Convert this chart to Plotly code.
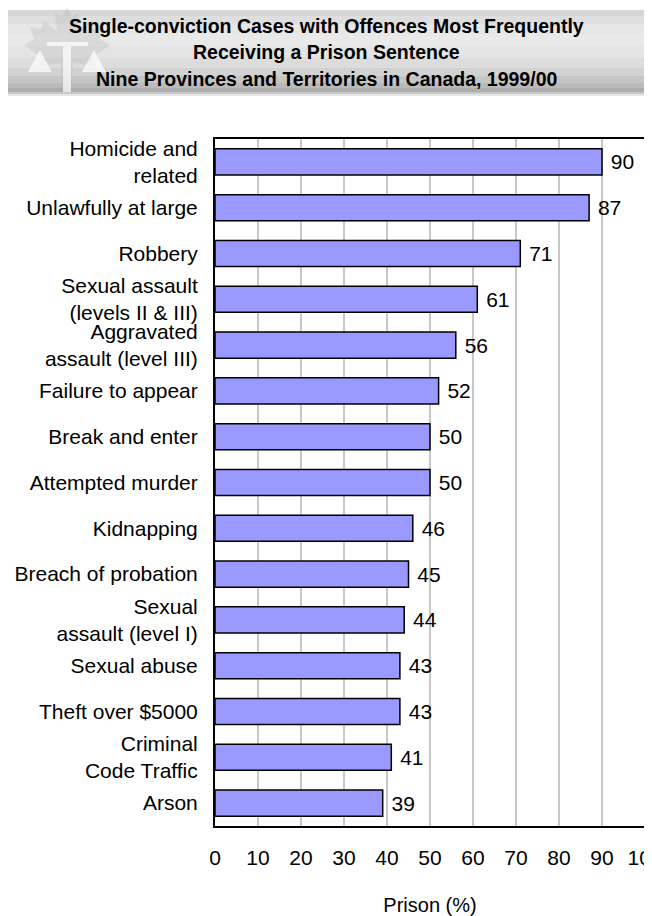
import plotly.graph_objects as go

categories = [
    "Homicide and<br>related",
    "Unlawfully at large",
    "Robbery",
    "Sexual assault<br>(levels II & III)",
    "Aggravated<br>assault (level III)",
    "Failure to appear",
    "Break and enter",
    "Attempted murder",
    "Kidnapping",
    "Breach of probation",
    "Sexual<br>assault (level I)",
    "Sexual abuse",
    "Theft over $5000",
    "Criminal<br>Code Traffic",
    "Arson",
]
prison_pct = [90, 87, 71, 61, 56, 52, 50, 50, 46, 45, 44, 43, 43, 41, 39]
x_ticks = [0, 10, 20, 30, 40, 50, 60, 70, 80, 90, 100]

title_lines = [
    "Single-conviction Cases with Offences Most Frequently",
    "Receiving a Prison Sentence",
    "Nine Provinces and Territories in Canada, 1999/00",
]

FONT = "Liberation Sans, Arial, sans-serif"
# page body has an 8px margin, so the figure starts at (8, 8) in the window
OFF = 8
W, H = 652 - OFF, 916 - OFF
PLOT_LEFT, PLOT_RIGHT, PLOT_TOP, PLOT_BOTTOM = 215, 645, 139, 826
L = PLOT_LEFT - OFF
R = (OFF + W) - PLOT_RIGHT
T = PLOT_TOP - OFF
B = (OFF + H) - PLOT_BOTTOM
PW, PH = W - L - R, H - T - B


def px_x(x):
    # x in window pixels -> paper coords
    return (x - OFF - L) / PW


def px_y(y):
    return (H - B - (y - OFF)) / PH


def poly(points):
    return "M " + " L ".join(f"{px_x(x):.5f},{px_y(y):.5f}" for x, y in points) + " Z"


fig = go.Figure()
fig.add_trace(go.Bar(
    y=categories,
    x=prison_pct,
    orientation="h",
    marker=dict(color="#9999ff", line=dict(color="black", width=1.5)),
    text=[" " + str(v) for v in prison_pct],
    textposition="outside",
    textfont=dict(family=FONT, size=21, color="black"),
    constraintext="none",
    cliponaxis=False,
    width=0.57,
))

# header band with vertical gradient (stacked strips)
shapes = []
grad = [
    (10, 16, "#d6d6d6"), (16, 24, "#dedede"), (24, 34, "#e6e6e6"),
    (34, 46, "#e9e9e9"), (46, 58, "#e4e4e4"), (58, 68, "#dcdcdc"),
    (68, 76, "#d2d2d2"), (76, 83, "#c6c6c6"), (83, 88, "#bababa"),
    (88, 92, "#adadad"), (92, 94, "#c8c8c8"), (94, 96, "#e6e6e6"),
]
for y0, y1, c in grad:
    shapes.append(dict(
        type="rect", xref="paper", yref="paper",
        x0=px_x(8), x1=px_x(660),
        y0=px_y(y1), y1=px_y(y0),
        fillcolor=c, line=dict(width=0), layer="below",
    ))

# faint logo in the header (maple leaf with scales)
leaf = [(67, 6), (72, 17), (79, 13), (77, 31), (90, 21), (93, 29), (104, 27),
        (100, 39), (110, 45), (92, 58), (95, 66), (73, 63), (71, 92),
        (63, 92), (61, 63), (39, 66), (42, 58), (24, 45), (34, 39), (30, 27),
        (41, 29), (44, 21), (57, 31), (55, 13), (62, 17)]
shapes.append(dict(type="path", xref="paper", yref="paper", path=poly(leaf),
                   fillcolor="rgba(170,170,170,0.25)", line=dict(width=0), layer="below"))
logo_white = [
    [(47, 42), (88, 42), (88, 46), (47, 46)],
    [(63, 46), (71, 46), (71, 92), (63, 92)],
    [(40, 50), (28, 72), (52, 72)],
    [(94, 50), (82, 72), (106, 72)],
]
for pts in logo_white:
    shapes.append(dict(type="path", xref="paper", yref="paper", path=poly(pts),
                       fillcolor="rgba(255,255,255,0.7)", line=dict(width=0), layer="below"))

title_y = [26, 52, 79]
annotations = []
for line, yy in zip(title_lines, title_y):
    annotations.append(dict(
        text="<b>" + line + "</b>",
        xref="paper", yref="paper",
        x=px_x(326), y=px_y(yy),
        xanchor="center", yanchor="middle",
        showarrow=False, align="center",
        font=dict(family=FONT, size=19.5, color="black"),
    ))

fig.update_layout(
    width=W, height=H,
    margin=dict(l=L, r=R, t=T, b=B, autoexpand=False),
    paper_bgcolor="white", plot_bgcolor="white",
    showlegend=False,
    bargap=0.43,
    font=dict(family=FONT, size=21, color="black"),
    shapes=shapes,
    annotations=annotations,
    xaxis=dict(
        range=[0, 100],
        tickvals=x_ticks,
        ticktext=[str(t) for t in x_ticks],
        showgrid=True, gridcolor="#c8c8c8", gridwidth=1.5,
        showline=True, linecolor="black", linewidth=2, mirror=True,
        ticks="", ticklabelstandoff=12,
        ticklabeloverflow="allow",
        tickfont=dict(family=FONT, size=21, color="black"),
        title=dict(text="Prison (%)", font=dict(family=FONT, size=20, color="black"), standoff=30),
        zeroline=False,
        automargin=False,
    ),
    yaxis=dict(
        categoryorder="array", categoryarray=categories,
        autorange="reversed",
        showgrid=False,
        showline=True, linecolor="black", linewidth=2, mirror=True,
        ticks="", ticklabelstandoff=11,
        tickfont=dict(family=FONT, size=21, color="black"),
        automargin=False,
    ),
)

fig.write_html("out.html")
